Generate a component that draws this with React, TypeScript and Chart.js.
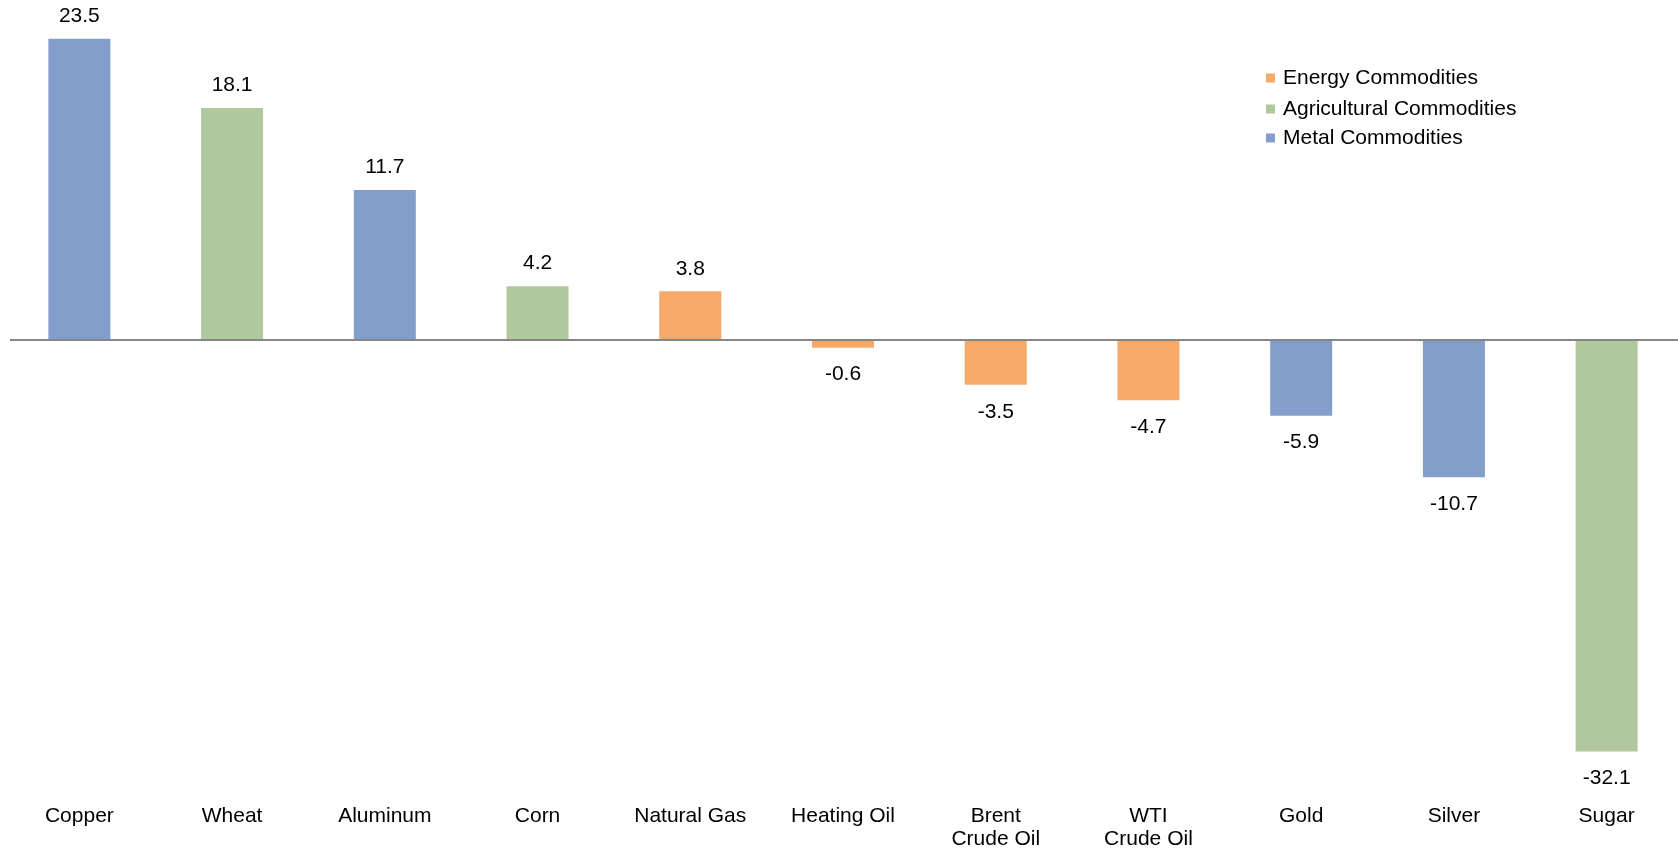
import React, { useEffect, useRef } from "react";
import { Chart, registerables } from "chart.js";

Chart.register(...registerables);

const categories: (string | string[])[] = [
  "Copper",
  "Wheat",
  "Aluminum",
  "Corn",
  "Natural Gas",
  "Heating Oil",
  ["Brent", "Crude Oil"],
  ["WTI", "Crude Oil"],
  "Gold",
  "Silver",
  "Sugar",
];
const values: number[] = [23.5, 18.1, 11.7, 4.2, 3.8, -0.6, -3.5, -4.7, -5.9, -10.7, -32.1];
const groupOf: string[] = [
  "Metal Commodities",
  "Agricultural Commodities",
  "Metal Commodities",
  "Agricultural Commodities",
  "Energy Commodities",
  "Energy Commodities",
  "Energy Commodities",
  "Energy Commodities",
  "Metal Commodities",
  "Metal Commodities",
  "Agricultural Commodities",
];
const seriesNames: string[] = ["Energy Commodities", "Agricultural Commodities", "Metal Commodities"];
const seriesColors: string[] = ["#F6AA6A", "#B1C89E", "#839ECA"];

const FONT = "'Liberation Sans', Arial, Helvetica, sans-serif";
const OFFSET_X = 3;

const zeroLinePlugin = {
  id: "zeroLine",
  afterDatasetsDraw(chart: any) {
    const { ctx } = chart;
    const y = chart.scales.y.getPixelForValue(0);
    ctx.save();
    ctx.strokeStyle = "#868686";
    ctx.lineWidth = 2;
    ctx.beginPath();
    ctx.moveTo(10 - OFFSET_X, y);
    ctx.lineTo(chart.width, y);
    ctx.stroke();
    ctx.restore();
  },
};

const valueLabelPlugin = {
  id: "valueLabels",
  afterDatasetsDraw(chart: any) {
    const { ctx } = chart;
    ctx.save();
    ctx.font = `21px ${FONT}`;
    ctx.fillStyle = "#000000";
    ctx.textAlign = "center";
    ctx.textBaseline = "middle";
    chart.data.datasets.forEach((ds: any, di: number) => {
      const meta = chart.getDatasetMeta(di);
      meta.data.forEach((bar: any, i: number) => {
        const v = ds.data[i];
        if (v === null || v === undefined) return;
        const y = v >= 0 ? bar.y - 22.5 : bar.y + 27;
        ctx.fillText(v.toFixed(1), bar.x, y);
      });
    });
    ctx.restore();
  },
};

const customLegendPlugin = {
  id: "customLegend",
  afterDraw(chart: any) {
    const { ctx } = chart;
    ctx.save();
    ctx.font = `21px ${FONT}`;
    ctx.textBaseline = "middle";
    ctx.textAlign = "left";
    const x0 = 1266 - OFFSET_X;
    const rows = [78, 109, 138];
    chart.data.datasets.forEach((ds: any, i: number) => {
      const yc = rows[i];
      ctx.fillStyle = ds.backgroundColor;
      ctx.fillRect(x0, yc - 4.5, 9, 9);
      ctx.fillStyle = "#000000";
      ctx.fillText(ds.label, 1283 - OFFSET_X, yc);
    });
    ctx.restore();
  },
};

export default function App() {
  const canvasRef = useRef<HTMLCanvasElement | null>(null);

  useEffect(() => {
    document.body.style.margin = "0";
    const canvas = canvasRef.current;
    if (!canvas) return;
    const datasets = seriesNames.map((name, si) => ({
      label: name,
      data: values.map((v, i) => (groupOf[i] === name ? v : null)),
      backgroundColor: seriesColors[si],
      borderWidth: 0,
      grouped: false,
      barPercentage: 0.406,
      categoryPercentage: 1,
    }));
    const chart = new Chart(canvas, {
      type: "bar",
      data: { labels: categories as any, datasets: datasets as any },
      options: {
        animation: false,
        responsive: false,
        maintainAspectRatio: false,
        layout: { padding: { top: 20, bottom: 0, left: 0, right: 0 } },
        plugins: {
          legend: { display: false },
          tooltip: { enabled: false },
        },
        scales: {
          x: {
            grid: { display: false, drawTicks: false },
            border: { display: false },
            ticks: {
              color: "#000000",
              font: { family: FONT, size: 21, lineHeight: 1.1 },
              padding: 9.5,
              maxRotation: 0,
              autoSkip: false,
            },
            afterFit: (scale: any) => {
              scale.height = 56;
            },
          },
          y: {
            display: false,
            min: -35.49,
            max: 24.96,
          },
        },
      },
      plugins: [zeroLinePlugin, valueLabelPlugin, customLegendPlugin],
    });
    return () => chart.destroy();
  }, []);

  return (
    <div
      style={{
        position: "fixed",
        left: 0,
        top: 0,
        width: 1678,
        height: 851,
        overflow: "hidden",
        background: "#ffffff",
      }}
    >
      <canvas
        ref={canvasRef}
        width={1680}
        height={851}
        style={{ position: "absolute", left: OFFSET_X, top: 0, width: 1680, height: 851 }}
      />
    </div>
  );
}
